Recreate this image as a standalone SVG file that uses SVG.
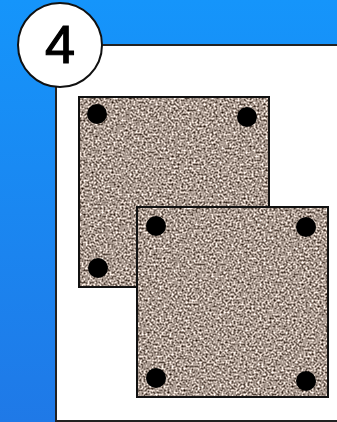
<svg xmlns="http://www.w3.org/2000/svg" width="337" height="422" viewBox="0 0 337 422">
<defs>
<linearGradient id="bg" x1="0" y1="0" x2="0" y2="1">
<stop offset="0" stop-color="#1595fb"/>
<stop offset="1" stop-color="#1f79e7"/>
</linearGradient>
<filter id="granite" x="0" y="0" width="100%" height="100%" color-interpolation-filters="sRGB">
<feTurbulence type="fractalNoise" baseFrequency="0.5" numOctaves="2" seed="7" result="n"/>
<feColorMatrix in="n" type="matrix" values="1.6 0 0 0 -0.14  1.6 0 0 0 -0.2  1.6 0 0 0 -0.24  0 0 0 0 1" result="c"/>
<feComposite in="c" in2="SourceGraphic" operator="in"/>
</filter>
<style>
.stone{fill:#a89a8e;filter:url(#granite)}
.edge{fill:none;stroke:#111;stroke-width:2}
.dot{fill:#000}
.panel{fill:#fff;stroke:#222;stroke-width:2}
.badge{fill:#fff;stroke:#111;stroke-width:2}
.num{font-family:"Liberation Sans",Arial,sans-serif;font-size:54px;fill:#000;stroke:#000;stroke-width:1.2;text-anchor:middle}
</style>
</defs>
<rect width="337" height="422" fill="url(#bg)"/>
<g id="panel">
<rect class="panel" x="56" y="45" width="290" height="376"/>
</g>
<g id="badge">
<circle class="badge" cx="60" cy="45" r="42"/>
<text class="num" x="60" y="63">4</text>
</g>
<g id="tile1">
<rect class="stone" x="79" y="97" width="190" height="190"/>
<rect class="edge" x="79" y="97" width="190" height="190"/>
<circle class="dot" cx="97" cy="114" r="10"/>
<circle class="dot" cx="247" cy="117" r="10"/>
<circle class="dot" cx="98" cy="268" r="10"/>
</g>
<g id="tile2">
<rect class="stone" x="137" y="207" width="191" height="190"/>
<rect class="edge" x="137" y="207" width="191" height="190"/>
<circle class="dot" cx="156" cy="226" r="10"/>
<circle class="dot" cx="306" cy="227" r="10"/>
<circle class="dot" cx="156" cy="378" r="10"/>
<circle class="dot" cx="306" cy="381" r="10"/>
</g>
<g id="connectors"/>
</svg>
